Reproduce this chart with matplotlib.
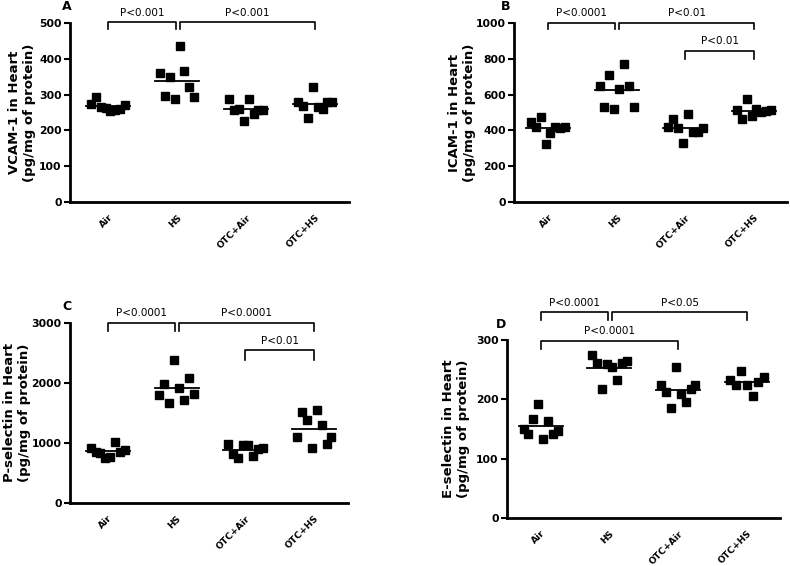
import numpy as np
import matplotlib
matplotlib.use("Agg")
import matplotlib.pyplot as plt

plt.rcParams['font.family'] = ['DejaVu Sans']

groups = ["Air", "HS", "OTC+Air", "OTC+HS"]

# Panel A: VCAM-1 (values listed left-to-right within each group)
vcam_air = [274, 292, 266, 262, 255, 257, 259, 271]
vcam_hs = [360, 296, 349, 288, 436, 366, 322, 294]
vcam_otc_air = [287, 257, 260, 227, 287, 246, 258, 257]
vcam_otc_hs = [280, 269, 234, 321, 266, 260, 278, 280]

# Panel B: ICAM-1
icam_air = [445, 421, 473, 323, 387, 417, 415, 417]
icam_hs = [649, 529, 712, 520, 630, 770, 649, 529]
icam_otc_air = [417, 462, 411, 327, 492, 389, 389, 411]
icam_otc_hs = [514, 462, 574, 480, 520, 505, 510, 515]

# Panel C: P-selectin
psel_air = [922, 850, 833, 756, 767, 1011, 850, 878]
psel_hs = [1794, 1989, 1667, 2389, 1922, 1711, 2083, 1822]
psel_otc_air = [978, 811, 756, 961, 961, 783, 900, 922]
psel_otc_hs = [1100, 1517, 1378, 922, 1544, 1294, 978, 1100]

# Panel D: E-selectin
esel_air = [150, 142, 167, 192, 133, 163, 142, 146]
esel_hs = [275, 262, 217, 259, 255, 233, 262, 265]
esel_otc_air = [225, 213, 185, 255, 209, 196, 217, 225]
esel_otc_hs = [233, 224, 247, 224, 206, 230, 237]

panels = [
    dict(letter="A", label="VCAM-1 in Heart\n(pg/mg of protein)",
         data=[vcam_air, vcam_hs, vcam_otc_air, vcam_otc_hs],
         ymax=500, step=100,
         brackets=[(0, 0.98, 504, 483, 528, "P<0.001"),
                   (1.04, 3, 504, 483, 528, "P<0.001")]),
    dict(letter="B", label="ICAM-1 in Heart\n(pg/mg of protein)",
         data=[icam_air, icam_hs, icam_otc_air, icam_otc_hs],
         ymax=1000, step=200,
         brackets=[(0, 0.98, 1002, 966, 1054, "P<0.0001"),
                   (1.04, 3, 1002, 966, 1054, "P<0.01"),
                   (2, 3, 845, 798, 900, "P<0.01")]),
    dict(letter="C", label="P-selectin in Heart\n(pg/mg of protein)",
         data=[psel_air, psel_hs, psel_otc_air, psel_otc_hs],
         ymax=3000, step=1000,
         brackets=[(0, 0.98, 3000, 2861, 3167, "P<0.0001"),
                   (1.04, 3, 3000, 2861, 3167, "P<0.0001"),
                   (2, 3, 2544, 2389, 2694, "P<0.01")]),
    dict(letter="D", label="E-selectin in Heart\n(pg/mg of protein)",
         data=[esel_air, esel_hs, esel_otc_air, esel_otc_hs],
         ymax=300, step=100,
         brackets=[(0, 0.98, 348, 334, 363, "P<0.0001"),
                   (1.04, 3, 348, 334, 363, "P<0.05"),
                   (0, 2, 299, 284, 315, "P<0.0001")]),
]

W, H = 790, 566
fig = plt.figure(figsize=(W / 100, H / 100), dpi=100)

# axes boxes in pixels: left, top, right, bottom
boxes = [(70, 23, 349, 202), (514, 23, 787, 202),
         (70, 323, 348, 503), (507, 340, 780, 518)]
xlims = [(-0.55, 3.49), (-0.495, 3.48), (-0.55, 3.49), (-0.49, 3.48)]
letter_pos = [(67, 6), (506, 6), (67, 307), (501, 325)]
ylabel_off = [-48, -52, -53, -51]

for p, box, xl, lp, yo in zip(panels, boxes, xlims, letter_pos, ylabel_off):
    l, t, r, b = box
    ax = fig.add_axes([l / W, 1 - b / H, (r - l) / W, (b - t) / H])
    for i, vals in enumerate(p["data"]):
        n = len(vals)
        offs = np.linspace(-0.25, 0.25, n)
        ax.plot(i + offs, vals, linestyle="none", marker="s", ms=6,
                color="black", clip_on=False, zorder=3)
        m = np.mean(vals)
        ax.plot([i - 0.32, i + 0.32], [m, m], color="black", lw=1.3, zorder=2)
    ax.set_xlim(*xl)
    ax.set_ylim(0, p["ymax"])
    ax.set_yticks(np.arange(0, p["ymax"] + 1, p["step"]))
    ax.set_xticks(range(4))
    ax.set_xticklabels(groups, rotation=45, ha="right", va="top",
                       rotation_mode="anchor", fontsize=6.6, fontweight="bold")
    for lab in ax.get_yticklabels():
        lab.set_fontweight("bold")
        lab.set_fontsize(7.8)
    ax.tick_params(axis="x", length=0, pad=8)
    ax.tick_params(axis="y", length=4, width=1.5, pad=2)
    for s in ["top", "right"]:
        ax.spines[s].set_visible(False)
    for s in ["left", "bottom"]:
        ax.spines[s].set_linewidth(2)
    ax.text(yo / (r - l), 0.5, p["label"], rotation=90, ha="center",
            va="center", transform=ax.transAxes, fontsize=9.5,
            fontweight="bold", linespacing=1.15)
    for (x0, x1, ytop, ydrop, ytext, txt) in p["brackets"]:
        ax.plot([x0, x0, x1, x1], [ydrop, ytop, ytop, ydrop], color="black",
                lw=1.2, clip_on=False)
        ax.text((x0 + x1) / 2, ytext, txt, ha="center", va="center",
                fontsize=7.5, clip_on=False)
    fig.text(lp[0] / W, 1 - lp[1] / H, p["letter"], ha="center", va="center",
             fontsize=9, fontweight="bold")

fig.savefig("out.png", dpi=100)
